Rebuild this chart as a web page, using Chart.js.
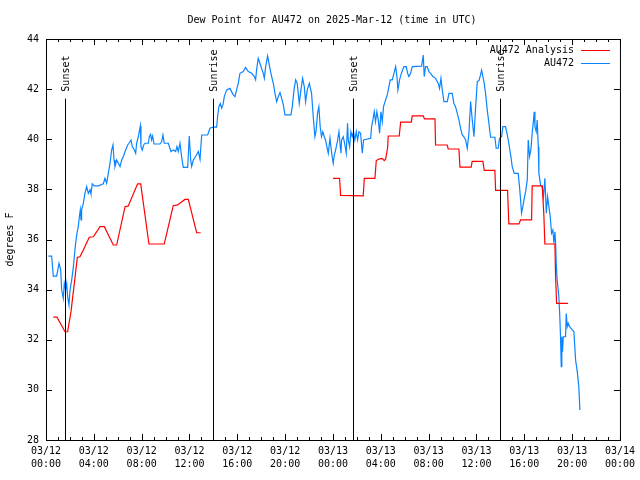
<!DOCTYPE html>
<html>
<head>
<meta charset="utf-8">
<script src="https://cdn.jsdelivr.net/npm/chart.js@4.4.1/dist/chart.umd.min.js"></script>
<style>
  html, body { margin: 0; padding: 0; background: #fff; }
  canvas { display: block; }
</style>
</head>
<body>
<canvas id="dewChart" width="640" height="480"></canvas>
<script>
// hours since 03/12 00:00 UTC
const xTickHours = [0, 4, 8, 12, 16, 20, 24, 28, 32, 36, 40, 44, 48];
const xTickDates = ["03/12", "03/12", "03/12", "03/12", "03/12", "03/12", "03/13", "03/13", "03/13", "03/13", "03/13", "03/13", "03/14"];
const xTickTimes = ["00:00", "04:00", "08:00", "12:00", "16:00", "20:00", "00:00", "04:00", "08:00", "12:00", "16:00", "20:00", "00:00"];

const sunHours = [1.6, 13.97, 25.68, 37.97];
const sunNames = ["Sunset", "Sunrise", "Sunset", "Sunrise"];

// AU472 Analysis (null = gap)
const analysisHours = [
  0.61, 0.92, 1.59, 1.81, 2.09, 2.37, 2.62, 2.84, 3.12, 3.62,
  3.96, 4.52, 4.88, 5.63, 5.91, 6.61, 6.88, 7.66, 7.92, 8.61,
  9.89, 10.64, 11.01, 11.62, 11.90, 12.60, 12.93, 18.5, 24.0, 24.55,
  24.64, 26.53, 26.62, 27.51, 27.62, 27.84, 28.12, 28.29, 28.40, 28.57,
  28.62, 29.54, 29.66, 30.55, 30.63, 31.55, 31.66, 32.53, 32.58, 33.55,
  33.64, 34.53, 34.62, 35.56, 35.64, 36.54, 36.65, 37.54, 37.60, 38.60,
  38.71, 39.55, 39.69, 40.61, 40.66, 41.50, 41.64, 41.72, 42.56, 42.61,
  42.70, 43.65
];
const analysisDew = [
  32.90, 32.90, 32.32, 32.32, 33.12, 34.25, 35.29, 35.31, 35.58, 36.09,
  36.11, 36.51, 36.51, 35.78, 35.78, 37.31, 37.34, 38.22, 38.22, 35.82,
  35.82, 37.35, 37.38, 37.60, 37.60, 36.27, 36.27, null, 38.44, 38.44,
  37.76, 37.74, 38.44, 38.44, 39.15, 39.21, 39.24, 39.15, 39.20, 39.66,
  40.13, 40.13, 40.68, 40.68, 40.93, 40.93, 40.81, 40.81, 39.77, 39.77,
  39.61, 39.61, 38.89, 38.89, 39.12, 39.12, 38.76, 38.76, 37.96, 37.96,
  36.62, 36.62, 36.78, 36.78, 38.14, 38.14, 36.94, 35.82, 35.82, 34.65,
  33.45, 33.45
];

// AU472 observations
const obsHours = [
  0.20, 0.47, 0.61, 0.89, 1.09, 1.23, 1.31, 1.45, 1.53, 1.64,
  1.73, 1.81, 1.92, 2.01, 2.15, 2.29, 2.37, 2.48, 2.59, 2.70,
  2.79, 2.87, 2.93, 2.98, 3.12, 3.26, 3.40, 3.54, 3.68, 3.76,
  3.87, 4.04, 4.38, 4.79, 4.93, 5.07, 5.21, 5.35, 5.49, 5.60,
  5.69, 5.77, 5.91, 6.05, 6.19, 6.33, 6.47, 6.66, 6.83, 6.94,
  7.11, 7.22, 7.39, 7.50, 7.58, 7.72, 7.80, 7.89, 7.94, 8.05,
  8.17, 8.28, 8.56, 8.64, 8.75, 8.83, 8.92, 9.03, 9.53, 9.67,
  9.78, 9.89, 10.23, 10.45, 10.65, 10.84, 10.95, 11.06, 11.20, 11.34,
  11.48, 11.85, 11.98, 12.10, 12.18, 12.32, 12.51, 12.74, 12.88, 13.02,
  13.29, 13.52, 13.71, 13.99, 14.27, 14.35, 14.46, 14.58, 14.69, 14.80,
  14.91, 15.11, 15.38, 15.52, 15.66, 15.80, 15.94, 16.08, 16.22, 16.50,
  16.69, 16.92, 17.20, 17.42, 17.53, 17.61, 17.75, 17.89, 18.03, 18.17,
  18.26, 18.37, 18.53, 18.65, 18.81, 19.01, 19.15, 19.29, 19.43, 19.57,
  19.71, 19.85, 19.98, 20.48, 20.60, 20.74, 20.88, 21.01, 21.18, 21.32,
  21.46, 21.60, 21.71, 21.85, 22.02, 22.21, 22.35, 22.49, 22.58, 22.71,
  22.82, 22.93, 23.04, 23.15, 23.27, 23.38, 23.49, 23.61, 23.75, 23.89,
  24.02, 24.11, 24.22, 24.39, 24.50, 24.61, 24.67, 24.72, 24.86, 25.00,
  25.11, 25.22, 25.28, 25.39, 25.50, 25.61, 25.72, 25.83, 25.95, 26.06,
  26.17, 26.31, 26.45, 26.56, 27.15, 27.23, 27.34, 27.45, 27.56, 27.67,
  27.79, 27.90, 28.01, 28.12, 28.23, 28.40, 28.54, 28.68, 28.79, 28.96,
  29.10, 29.24, 29.35, 29.43, 29.57, 29.68, 29.93, 30.13, 30.24, 30.35,
  30.49, 30.63, 31.41, 31.55, 31.63, 31.74, 31.88, 32.02, 32.16, 32.36,
  32.58, 32.80, 32.91, 33.03, 33.14, 33.28, 33.56, 33.70, 33.97, 34.11,
  34.25, 34.39, 34.53, 34.67, 34.81, 34.95, 35.09, 35.23, 35.37, 35.51,
  35.65, 35.79, 35.93, 36.07, 36.21, 36.34, 36.43, 36.54, 36.65, 36.76,
  36.90, 37.04, 37.18, 37.54, 37.65, 37.82, 37.93, 38.10, 38.21, 38.43,
  38.55, 38.66, 38.77, 38.88, 38.99, 39.16, 39.49, 39.60, 39.69, 39.77,
  39.88, 39.97, 40.11, 40.25, 40.33, 40.44, 40.55, 40.66, 40.77, 40.83,
  40.89, 41.00, 41.08, 41.17, 41.22, 41.36, 41.50, 41.61, 41.72, 41.84,
  41.95, 42.06, 42.17, 42.28, 42.39, 42.48, 42.56, 42.62, 42.67, 42.75,
  42.89, 42.97, 43.03, 43.09, 43.14, 43.20, 43.26, 43.45, 43.51, 43.59,
  43.67, 43.79, 44.01, 44.15, 44.29, 44.43, 44.56, 44.65
];
const obsDew = [
  35.34, 35.34, 34.54, 34.54, 35.05, 34.78, 33.99, 33.65, 34.25, 33.99,
  34.25, 33.72, 33.39, 33.99, 34.38, 34.92, 35.32, 35.85, 36.25, 36.51,
  36.91, 37.18, 36.78, 37.18, 37.44, 37.84, 38.11, 37.84, 37.98, 37.82,
  38.22, 38.14, 38.14, 38.22, 38.44, 38.24, 38.64, 39.04, 39.57, 39.77,
  39.17, 38.91, 39.17, 39.04, 38.91, 39.17, 39.31, 39.57, 39.77, 39.84,
  39.97, 39.71, 39.57, 39.44, 39.84, 40.10, 40.30, 40.53, 39.71, 39.57,
  39.77, 39.84, 39.84, 40.10, 40.20, 39.97, 40.13, 39.81, 39.81, 39.90,
  40.17, 39.84, 39.84, 39.51, 39.57, 39.51, 39.71, 39.51, 39.84, 39.31,
  38.88, 38.88, 40.13, 39.17, 38.91, 39.17, 39.31, 39.51, 39.20, 40.17,
  40.17, 40.17, 40.44, 40.48, 40.48, 40.90, 41.30, 41.43, 41.24, 41.37,
  41.70, 41.97, 42.03, 41.90, 41.77, 41.70, 41.97, 42.23, 42.63, 42.70,
  42.87, 42.70, 42.63, 42.50, 42.37, 42.76, 43.23, 43.03, 42.83, 42.63,
  42.43, 42.90, 43.32, 43.03, 42.63, 42.23, 41.83, 41.50, 41.70, 41.86,
  41.63, 41.37, 40.97, 40.97, 41.30, 41.97, 42.37, 42.23, 41.43, 41.97,
  42.43, 42.10, 41.50, 41.97, 42.23, 41.83, 40.90, 40.10, 40.30, 41.04,
  41.30, 40.50, 40.10, 40.30, 40.10, 39.97, 39.70, 39.44, 40.04, 39.44,
  39.04, 39.37, 39.57, 39.97, 40.30, 39.70, 39.44, 39.97, 40.10, 39.77,
  39.44, 40.64, 39.97, 39.70, 40.30, 40.10, 40.30, 39.97, 40.30, 39.97,
  40.30, 40.24, 39.44, 39.97, 40.04, 40.50, 40.77, 41.10, 40.70, 41.10,
  40.77, 40.24, 41.10, 40.70, 41.30, 41.57, 41.77, 42.10, 42.37, 42.37,
  42.63, 42.90, 42.50, 41.97, 42.37, 42.57, 42.90, 42.90, 42.63, 42.50,
  42.63, 42.90, 42.92, 43.36, 42.50, 42.90, 42.90, 42.70, 42.63, 42.50,
  42.43, 42.23, 42.03, 42.43, 41.97, 41.50, 41.50, 41.83, 41.83, 41.43,
  41.30, 41.04, 40.77, 40.44, 40.17, 40.10, 39.97, 39.64, 40.24, 41.50,
  40.77, 40.10, 41.30, 42.30, 42.34, 42.57, 42.76, 42.50, 42.23, 41.83,
  41.17, 40.64, 40.08, 40.08, 39.64, 39.64, 40.04, 40.10, 40.50, 40.50,
  40.24, 39.97, 39.64, 39.31, 38.91, 38.64, 38.64, 38.11, 37.58, 37.05,
  37.31, 37.58, 37.91, 38.38, 39.97, 39.31, 39.57, 40.24, 40.77, 41.10,
  40.50, 40.30, 40.77, 39.70, 38.64, 38.18, 38.11, 37.71, 38.44, 37.05,
  37.71, 37.31, 36.91, 36.25, 36.38, 35.85, 36.31, 35.85, 35.05, 34.38,
  33.72, 32.92, 32.12, 30.93, 32.12, 31.52, 32.12, 32.12, 33.05, 32.52,
  32.66, 32.52, 32.39, 32.32, 31.19, 30.73, 30.13, 29.20
];

const FONT = "'DejaVu Sans Mono', 'Liberation Mono', monospace";
Chart.defaults.font.family = FONT;
Chart.defaults.font.size = 10;
Chart.defaults.color = "#000";

const toPoints = (xs, ys) => xs.map((h, i) => ({ x: h, y: ys[i] }));

// gnuplot-like frame, inward ticks, sunrise/sunset markers, title and key
const frame = {
  id: "frame",
  afterDraw(chart) {
    const { ctx, chartArea: a, scales } = chart;
    const x = scales.x, y = scales.y;
    ctx.save();
    ctx.strokeStyle = "#000";
    ctx.lineWidth = 1;

    ctx.beginPath();
    for (let h = 0; h <= 48; h++) {
      const px = Math.round(x.getPixelForValue(h)) + 0.5;
      const len = h % 4 === 0 ? 6 : 3;
      ctx.moveTo(px, a.bottom); ctx.lineTo(px, a.bottom - len);
      ctx.moveTo(px, a.top); ctx.lineTo(px, a.top + len);
    }
    for (let v = 28; v <= 44; v += 2) {
      const py = Math.round(y.getPixelForValue(v)) + 0.5;
      ctx.moveTo(a.left, py); ctx.lineTo(a.left + 6, py);
      ctx.moveTo(a.right, py); ctx.lineTo(a.right - 6, py);
    }
    ctx.stroke();
    ctx.strokeRect(a.left + 0.5, a.top + 0.5, a.right - a.left, a.bottom - a.top);

    // sunrise / sunset
    const lineTop = y.getPixelForValue(41.62);
    ctx.font = "10px " + FONT;
    ctx.fillStyle = "#000";
    sunHours.forEach((h, i) => {
      const px = Math.round(x.getPixelForValue(h)) + 0.5;
      ctx.beginPath();
      ctx.moveTo(px, lineTop);
      ctx.lineTo(px, a.bottom);
      ctx.stroke();
      ctx.save();
      ctx.translate(px + 1, lineTop - 7);
      ctx.rotate(-Math.PI / 2);
      ctx.textAlign = "left";
      ctx.textBaseline = "middle";
      ctx.fillText(sunNames[i], 0, 0);
      ctx.restore();
    });

    // title
    ctx.textAlign = "center";
    ctx.textBaseline = "middle";
    ctx.fillText("Dew Point for AU472 on 2025-Mar-12 (time in UTC)", 332, 20);

    // key
    chart.data.datasets.forEach((ds, i) => {
      const yy = 50 + i * 13;
      ctx.textAlign = "right";
      ctx.fillText(ds.label, 574, yy);
      ctx.strokeStyle = ds.borderColor;
      ctx.beginPath();
      ctx.moveTo(581, yy + 0.5);
      ctx.lineTo(610, yy + 0.5);
      ctx.stroke();
    });
    ctx.restore();
  }
};

new Chart(document.getElementById("dewChart"), {
  type: "line",
  data: {
    datasets: [
      {
        label: "AU472 Analysis",
        data: toPoints(analysisHours, analysisDew),
        borderColor: "#ff0000",
        borderWidth: 1.2,
        pointRadius: 0,
        tension: 0,
        spanGaps: false
      },
      {
        label: "AU472",
        data: toPoints(obsHours, obsDew),
        borderColor: "#0a84ff",
        borderWidth: 1.2,
        pointRadius: 0,
        tension: 0
      }
    ]
  },
  options: {
    responsive: false,
    animation: false,
    devicePixelRatio: 1,
    layout: { padding: { top: 39, right: 19, left: 0, bottom: 0 } },
    plugins: {
      legend: { display: false },
      title: { display: false },
      tooltip: { enabled: false }
    },
    scales: {
      x: {
        type: "linear",
        min: 0,
        max: 48,
        afterBuildTicks: (s) => { s.ticks = xTickHours.map((v) => ({ value: v })); },
        afterFit: (s) => { s.height = 40; },
        grid: { display: false, drawTicks: false },
        border: { display: false },
        ticks: {
          autoSkip: false,
          maxRotation: 0,
          padding: 5,
          font: { size: 10, lineHeight: 1.3 },
          callback: (v) => {
            const i = xTickHours.indexOf(v);
            return i < 0 ? "" : [xTickDates[i], xTickTimes[i]];
          }
        }
      },
      y: {
        min: 28,
        max: 44,
        afterFit: (s) => { s.width = 46; },
        grid: { display: false, drawTicks: false },
        border: { display: false },
        ticks: { stepSize: 2, padding: 7 },
        title: { display: true, text: "degrees F", padding: { top: 4, bottom: 0 } }
      }
    }
  },
  plugins: [frame]
});
</script>
</body>
</html>
